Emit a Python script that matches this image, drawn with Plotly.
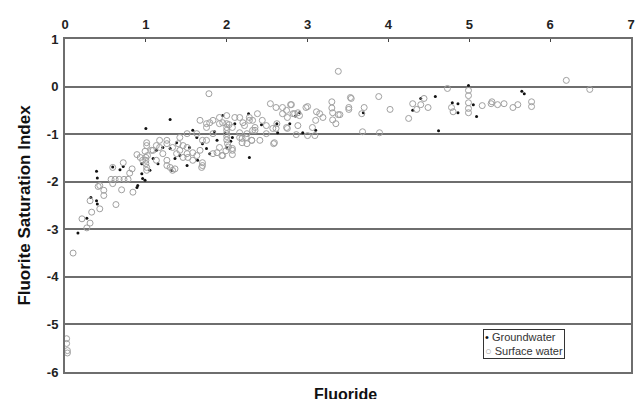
import plotly.graph_objects as go

# Surface water (open grey circles)
surface_x = [0.02, 0.02, 0.03, 0.03, 0.10, 0.21, 0.27, 0.31, 0.31, 0.33, 0.43, 0.41, 0.43, 0.48, 0.48, 0.63, 0.70, 0.84,
             0.57, 0.62, 0.67, 0.73, 0.78, 0.59, 0.59, 0.72, 0.83, 0.80, 0.89, 0.93, 0.96,
             1.01, 1.01, 1.00, 1.00, 1.00, 1.01, 1.01, 1.02, 0.99,
             1.07, 1.13, 1.17, 1.26, 1.21, 1.26, 1.30, 1.36, 1.38, 1.42, 1.40, 1.46, 1.33, 1.51, 1.52, 1.58, 1.63, 1.67,
             1.70, 1.69, 1.75, 1.83, 1.75, 1.79, 1.91, 2.00, 1.95, 1.88, 1.95, 2.07, 2.19, 2.24, 2.31, 2.16, 2.22, 2.35,
             2.28, 2.32, 2.10, 1.78,
             2.00, 2.00, 2.00, 2.00, 2.00, 2.01, 2.02, 1.99, 2.03,
             1.63, 1.75, 1.83, 1.91, 2.00, 1.67, 1.51, 1.42, 1.26, 1.17, 1.09, 1.13, 1.26, 1.33, 1.46, 1.58, 1.70, 1.51,
             1.91, 1.83, 1.94, 1.70, 2.07, 2.16, 2.25, 2.07,
             2.54, 2.79, 3.00, 2.69, 2.74, 2.82, 2.88, 2.90, 2.69, 2.75, 3.11, 3.15, 3.10, 3.19, 2.38, 2.16, 2.20, 2.28,
             2.44, 2.49, 2.62, 2.57, 2.35, 2.25, 2.19, 2.31, 2.07, 2.58, 2.75, 2.88, 3.00, 3.09, 2.86, 2.61, 2.84, 2.98,
             3.06, 2.74, 2.61, 2.49, 2.59, 2.41, 2.32, 2.80, 3.40,
             3.38, 3.30, 3.30, 3.31, 3.31, 3.35, 3.53, 3.51, 3.51, 3.38, 3.67, 3.70, 3.88, 4.02, 3.68, 3.89, 4.25, 4.30,
             4.40, 4.44, 4.35, 4.49, 4.73, 4.78, 4.80, 4.99, 4.99, 4.99, 4.99, 4.99, 3.54,
             5.16, 5.27, 5.28, 5.35, 5.43, 5.54, 5.60, 5.77, 5.77, 6.20, 6.49]
surface_y = [-5.30, -5.40, -5.55, -5.60, -3.50, -2.78, -2.97, -2.87, -2.40, -2.64, -2.57, -2.10, -2.08, -2.18, -2.29, -2.48, -2.17, -2.22,
             -1.95, -1.95, -1.95, -1.95, -1.95, -2.04, -1.70, -1.60, -1.73, -1.82, -1.43, -1.49, -1.55,
             -1.18, -1.24, -1.49, -1.55, -1.62, -1.70, -1.76, -1.45, -1.36,
             -1.34, -1.24, -1.13, -1.20, -1.41, -1.55, -1.70, -1.73, -1.41, -1.34, -1.20, -1.24, -1.28, -1.41, -1.49, -1.39, -1.45, -1.34,
             -1.60, -1.70, -1.13, -0.99, -0.78, -0.76, -0.78, -0.61, -0.76, -1.39, -1.45, -1.34, -1.18, -1.07, -1.13, -0.97, -0.82, -0.86,
             -0.65, -0.71, -0.65, -0.15,
             -0.86, -0.92, -0.99, -1.05, -1.12, -1.20, -1.27, -1.35, -0.80,
             -0.99, -0.86, -0.71, -0.65, -0.78, -0.71, -0.99, -1.07, -1.13, -1.28, -1.34, -1.55, -1.66, -1.76, -1.49, -1.55, -1.66, -1.28,
             -1.28, -1.41, -1.45, -1.13, -0.86, -1.07, -1.20, -1.43,
             -0.36, -0.38, -0.42, -0.44, -0.50, -0.57, -0.55, -0.61, -0.57, -0.65, -0.53, -0.57, -0.71, -0.65, -0.57, -0.65, -0.76, -0.71,
             -0.71, -0.82, -0.78, -0.88, -0.92, -0.99, -1.09, -1.13, -1.30, -1.20, -0.88, -0.82, -1.03, -1.03, -1.01, -0.44, -0.57, -0.44,
             -0.86, -0.86, -0.88, -0.99, -1.18, -1.13, -0.92, -0.38, -0.59,
             0.32, -0.32, -0.45, -0.55, -0.70, -0.78, -0.23, -0.44, -0.48, -0.59, -0.57, -0.44, -0.21, -0.48, -0.95, -0.97, -0.67, -0.36,
             -0.38, -0.25, -0.48, -0.44, -0.04, -0.44, -0.53, -0.08, -0.19, -0.34, -0.46, -0.55, -0.25,
             -0.40, -0.36, -0.32, -0.38, -0.36, -0.44, -0.38, -0.32, -0.42, 0.13, -0.06]

# Groundwater (small black dots)
ground_x = [0.39, 0.40, 0.32, 0.39, 0.40, 0.59, 0.68, 0.72, 0.90, 0.89, 0.95, 0.96, 0.27, 0.16, 0.95,
            1.00, 1.30, 1.58, 1.95, 2.28, 2.07, 1.88, 1.70, 1.79, 1.64, 1.51, 1.36, 1.30, 1.21, 1.13, 1.09, 1.15, 1.05,
            1.42, 1.54, 1.75, 2.00, 1.63, 1.38, 1.32, 0.99, 2.27,
            2.10, 2.43, 2.62, 2.78, 2.90, 2.94, 2.63, 1.98, 2.05, 1.85, 2.85, 3.10,
            3.69, 4.40, 4.58, 4.30, 4.62, 4.79, 4.86, 4.86, 4.99, 5.05, 5.09, 5.65, 5.68]
ground_y = [-1.78, -1.92, -2.33, -2.40, -2.47, -1.69, -1.75, -1.68, -2.08, -2.12, -1.83, -1.93, -2.77, -3.08, -1.62,
            -0.88, -0.69, -0.92, -0.61, -1.49, -1.07, -1.13, -1.20, -1.41, -1.55, -1.66, -1.51, -1.30, -1.28, -1.34, -1.51, -1.62, -1.76,
            -1.45, -1.28, -1.30, -1.28, -1.07, -1.18, -1.76, -1.97, -0.57,
            -0.78, -0.80, -0.78, -0.78, -0.55, -0.97, -0.97, -0.98, -1.15, -0.95, -0.62, -0.92,
            -0.55, -0.25, -0.21, -0.50, -0.93, -0.34, -0.36, -0.55, 0.02, -0.38, -0.63, -0.10, -0.15]

x_ticks = [0, 1, 2, 3, 4, 5, 6, 7]
y_ticks = [1, 0, -1, -2, -3, -4, -5, -6]
y_ticktext = ["1", "0", "-1", "-2", "-3", "-4", "-5", "-6"]
series_names = ["Groundwater", "Surface water"]

FONT = "Liberation Sans"
GRID = "#6e6e6e"
GROUND_COLOR = "#111111"
SURFACE_COLOR = "#a0a0a0"

fig = go.Figure()
fig.add_trace(go.Scatter(
    x=ground_x, y=ground_y, mode="markers", name=series_names[0],
    marker=dict(symbol="circle", size=3, color=GROUND_COLOR),
))
fig.add_trace(go.Scatter(
    x=surface_x, y=surface_y, mode="markers", name=series_names[1],
    marker=dict(symbol="circle-open", size=6, color=SURFACE_COLOR, line=dict(width=1)),
))

legend_text = (
    f"<span style='color:{GROUND_COLOR}'>•</span> {series_names[0]}<br>"
    f"<span style='color:{SURFACE_COLOR}'>○</span> {series_names[1]}"
)

fig.update_layout(
    width=635, height=399,
    margin=dict(l=65, r=4, t=39, b=27, autoexpand=False),
    paper_bgcolor="white", plot_bgcolor="white",
    font=dict(family=FONT, color="#222222"),
    showlegend=False,
    xaxis=dict(
        side="top", range=[0, 7], tickvals=x_ticks, automargin=False,
        tickfont=dict(family=FONT, size=13, color="#222222", weight="bold"),
        showgrid=False, zeroline=False, ticklabelstandoff=3, ticklabeloverflow="allow",
        showline=True, linecolor=GRID, linewidth=2, mirror=True,
        ticks="inside", ticklen=3, tickcolor="#444444", tickwidth=1,
    ),
    yaxis=dict(
        range=[-6, 1], tickvals=y_ticks, ticktext=y_ticktext, automargin=False,
        tickfont=dict(family=FONT, size=13, color="#222222", weight="bold"),
        showgrid=True, gridcolor=GRID, gridwidth=2,
        zeroline=False, showline=True, linecolor=GRID, linewidth=2, mirror=True,
        ticks="", ticklabelstandoff=2,
        title=dict(text="Fluorite Saturation Index",
                   font=dict(family=FONT, size=17, color="#111111", weight="bold"),
                   standoff=12),
    ),
    annotations=[
        dict(
            text="Fluoride", x=0.495, y=-0.035, xref="paper", yref="paper",
            xanchor="center", yanchor="top", showarrow=False,
            font=dict(family=FONT, size=16, color="#111111", weight="bold"),
        ),
        dict(
            text=legend_text, x=0.7385, y=0.129, xref="paper", yref="paper",
            xanchor="left", yanchor="top", showarrow=False, align="left",
            bgcolor="white", bordercolor="#333333", borderwidth=1, borderpad=1,
            font=dict(family=FONT, size=11, color="#333333"),
        ),
    ],
)

# remove the browser's default 8px body margin so the figure fills the window exactly
fig.write_html(
    "out.html",
    config={"displayModeBar": False},
    post_script="document.body.style.margin='0px';document.body.style.overflow='hidden';",
)
